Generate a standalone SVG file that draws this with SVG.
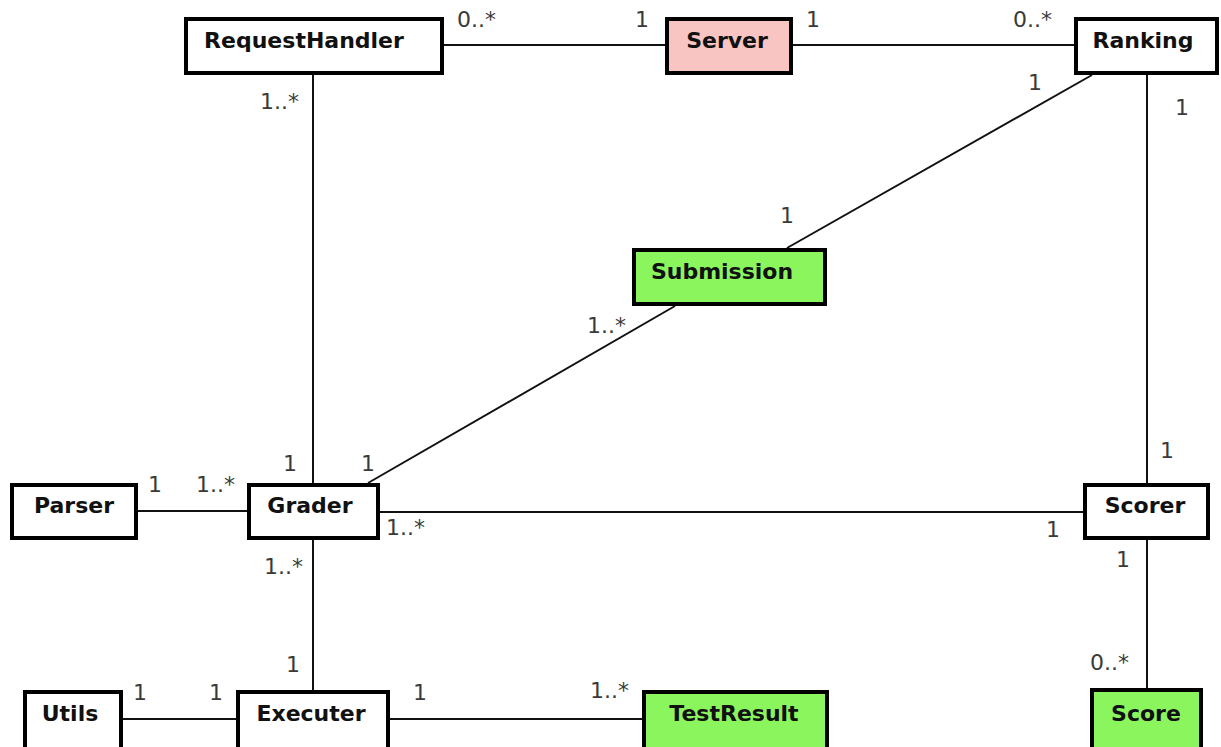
<svg xmlns="http://www.w3.org/2000/svg" width="1221" height="747" viewBox="0 0 1221 747">
<style>
.box{fill:#fff;stroke:#000;stroke-width:4}
.pink{fill:#f8c5c3}
.green{fill:#8bf55e}
.name{font-family:"DejaVu Sans",sans-serif;font-weight:bold;font-size:22px;fill:#111;text-anchor:middle}
.m{font-family:"DejaVu Sans",sans-serif;font-size:22px;fill:#3a3a3a}
.c{stroke:#111;stroke-width:2;fill:none}
</style>
<rect width="1221" height="747" fill="#fff"/>
<g id="connectors">
<line class="c" x1="444" y1="45" x2="665" y2="45"/>
<line class="c" x1="793" y1="45" x2="1074" y2="45"/>
<line class="c" x1="313" y1="75" x2="313" y2="483"/>
<line class="c" x1="1092" y1="75" x2="787" y2="248"/>
<line class="c" x1="675" y1="306" x2="368" y2="483"/>
<line class="c" x1="1147" y1="75" x2="1147" y2="483"/>
<line class="c" x1="138" y1="511" x2="247" y2="511"/>
<line class="c" x1="380" y1="512" x2="1083" y2="512"/>
<line class="c" x1="313" y1="540" x2="313" y2="690"/>
<line class="c" x1="123" y1="719" x2="236" y2="719"/>
<line class="c" x1="390" y1="719" x2="642" y2="719"/>
<line class="c" x1="1147" y1="540" x2="1147" y2="688"/>
</g>
<g id="RequestHandler"><rect class="box" x="186" y="19" width="256" height="54"/><text class="name" x="304" y="48">RequestHandler</text></g>
<g id="Server"><rect class="box pink" x="667" y="19" width="124" height="54"/><text class="name" x="727" y="48">Server</text></g>
<g id="Ranking"><rect class="box" x="1076" y="19" width="141" height="54"/><text class="name" x="1143" y="48">Ranking</text></g>
<g id="Submission"><rect class="box green" x="634" y="250" width="191" height="54"/><text class="name" x="722" y="279">Submission</text></g>
<g id="Parser"><rect class="box" x="12" y="485" width="124" height="53"/><text class="name" x="74" y="513">Parser</text></g>
<g id="Grader"><rect class="box" x="249" y="485" width="129" height="53"/><text class="name" x="310" y="513">Grader</text></g>
<g id="Scorer"><rect class="box" x="1085" y="485" width="123" height="53"/><text class="name" x="1145" y="513">Scorer</text></g>
<g id="Utils"><rect class="box" x="25" y="692" width="96" height="60"/><text class="name" x="70" y="721">Utils</text></g>
<g id="Executer"><rect class="box" x="238" y="692" width="150" height="60"/><text class="name" x="311" y="721">Executer</text></g>
<g id="TestResult"><rect class="box green" x="644" y="692" width="183" height="60"/><text class="name" x="734" y="721">TestResult</text></g>
<g id="Score"><rect class="box green" x="1092" y="690" width="109" height="62"/><text class="name" x="1146" y="721">Score</text></g>
<g id="labels">
<text class="m" x="457" y="27">0..*</text>
<text class="m" x="635" y="27">1</text>
<text class="m" x="806" y="27">1</text>
<text class="m" x="1013" y="27">0..*</text>
<text class="m" x="260" y="109">1..*</text>
<text class="m" x="1028" y="90">1</text>
<text class="m" x="1175" y="115">1</text>
<text class="m" x="780" y="223">1</text>
<text class="m" x="587" y="333">1..*</text>
<text class="m" x="1160" y="458">1</text>
<text class="m" x="283" y="471">1</text>
<text class="m" x="361" y="471">1</text>
<text class="m" x="148" y="492">1</text>
<text class="m" x="196" y="492">1..*</text>
<text class="m" x="386" y="535">1..*</text>
<text class="m" x="1046" y="537">1</text>
<text class="m" x="1116" y="567">1</text>
<text class="m" x="264" y="574">1..*</text>
<text class="m" x="286" y="672">1</text>
<text class="m" x="133" y="700">1</text>
<text class="m" x="209" y="700">1</text>
<text class="m" x="413" y="700">1</text>
<text class="m" x="590" y="698">1..*</text>
<text class="m" x="1090" y="670">0..*</text>
</g>
</svg>
